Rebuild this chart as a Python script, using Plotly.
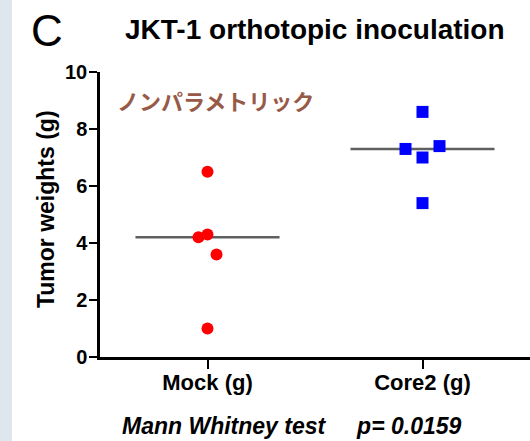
import plotly.graph_objects as go

categories = ["Mock (g)", "Core2 (g)"]
mock_values = [6.5, 4.2, 4.3, 3.6, 1.0]
core2_values = [8.6, 7.3, 7.0, 7.4, 5.4]
y_ticks = [0, 2, 4, 6, 8, 10]

# horizontal jitter (style) for the scatter points
mock_jitter = [0.0, -0.042, 0.0, 0.042, 0.0]
core2_jitter = [0.0, -0.079, 0.0, 0.079, 0.0]
half_width = 0.335

def median(v):
    s = sorted(v)
    n = len(s)
    return s[n // 2] if n % 2 else (s[n // 2 - 1] + s[n // 2]) / 2

FONT = "Liberation Sans, Arial, sans-serif"

fig = go.Figure()

# median lines
for i, vals in enumerate([mock_values, core2_values]):
    m = median(vals)
    fig.add_trace(go.Scatter(
        x=[i + 1 - half_width, i + 1 + half_width], y=[m, m],
        mode="lines", line=dict(color="#5f5f5f", width=2.5),
        showlegend=False, hoverinfo="skip"))

fig.add_trace(go.Scatter(
    x=[1 + j for j in mock_jitter], y=mock_values, mode="markers",
    marker=dict(symbol="circle", size=12, color="#ff0000", line=dict(width=0)),
    showlegend=False))
fig.add_trace(go.Scatter(
    x=[2 + j for j in core2_jitter], y=core2_values, mode="markers",
    marker=dict(symbol="square", size=12, color="#0000ff", line=dict(width=0)),
    showlegend=False))

fig.update_layout(
    width=530, height=441,
    margin=dict(l=100, r=0, t=72, b=84),
    paper_bgcolor="white", plot_bgcolor="white",
    font=dict(family=FONT, color="black"),
    xaxis=dict(
        range=[0.5, 2.5], tickmode="array", tickvals=[1, 2], ticktext=categories,
        showline=True, linecolor="black", linewidth=2.5, showgrid=False, zeroline=False,
        ticks="outside", ticklen=9, tickwidth=2, tickcolor="black", ticklabelstandoff=-5,
        tickfont=dict(family=FONT, size=22, color="black", weight="bold"),
    ),
    yaxis=dict(
        range=[0, 10], tickvals=y_ticks,
        showline=True, linecolor="black", linewidth=2.5, showgrid=False, zeroline=False,
        ticks="outside", ticklen=8, tickwidth=2, tickcolor="black", ticklabelstandoff=-2,
        tickfont=dict(family=FONT, size=20, color="black", weight="bold"),
    ),
    shapes=[dict(type="rect", xref="paper", yref="paper",
                 x0=-0.2326, x1=-0.2047, y0=-0.3, y1=1.3,
                 fillcolor="#dfe7ee", line=dict(width=0), layer="below")],
    annotations=[
        dict(text="JKT-1 orthotopic inoculation", xref="paper", yref="paper",
             x=0.5, y=1.0, yshift=43, xanchor="center", yanchor="middle", showarrow=False,
             font=dict(family=FONT, size=28, color="black", weight="bold")),
        dict(text="C", xref="paper", yref="paper", x=-0.123, y=1.0, yshift=42,
             xanchor="center", yanchor="middle", showarrow=False,
             font=dict(family=FONT, size=44, color="black")),
        dict(text="Tumor weights (g)", xref="paper", yref="paper", x=-0.1256, y=0.519,
             textangle=-90, xanchor="center", yanchor="middle", showarrow=False,
             font=dict(family=FONT, size=23, color="black", weight="bold")),
        dict(text="ノンパラメトリック", xref="paper", yref="paper", x=0.034, y=1.0, yshift=-28,
             xanchor="left", yanchor="middle", showarrow=False,
             font=dict(family="Noto Sans CJK JP", size=22, color="#975a47", weight="bold")),
        dict(text="<i>Mann Whitney test\u00a0\u00a0\u00a0\u00a0\u00a0p= 0.0159</i>", xref="paper", yref="paper",
             x=0.447, y=0.0, yshift=-69, xanchor="center", yanchor="middle", showarrow=False,
             font=dict(family=FONT, size=23, color="black", weight="bold")),
    ],
)

fig.write_html("out.html", config={"displayModeBar": False},
               post_script="document.body.style.margin='0';document.body.style.padding='0';")
